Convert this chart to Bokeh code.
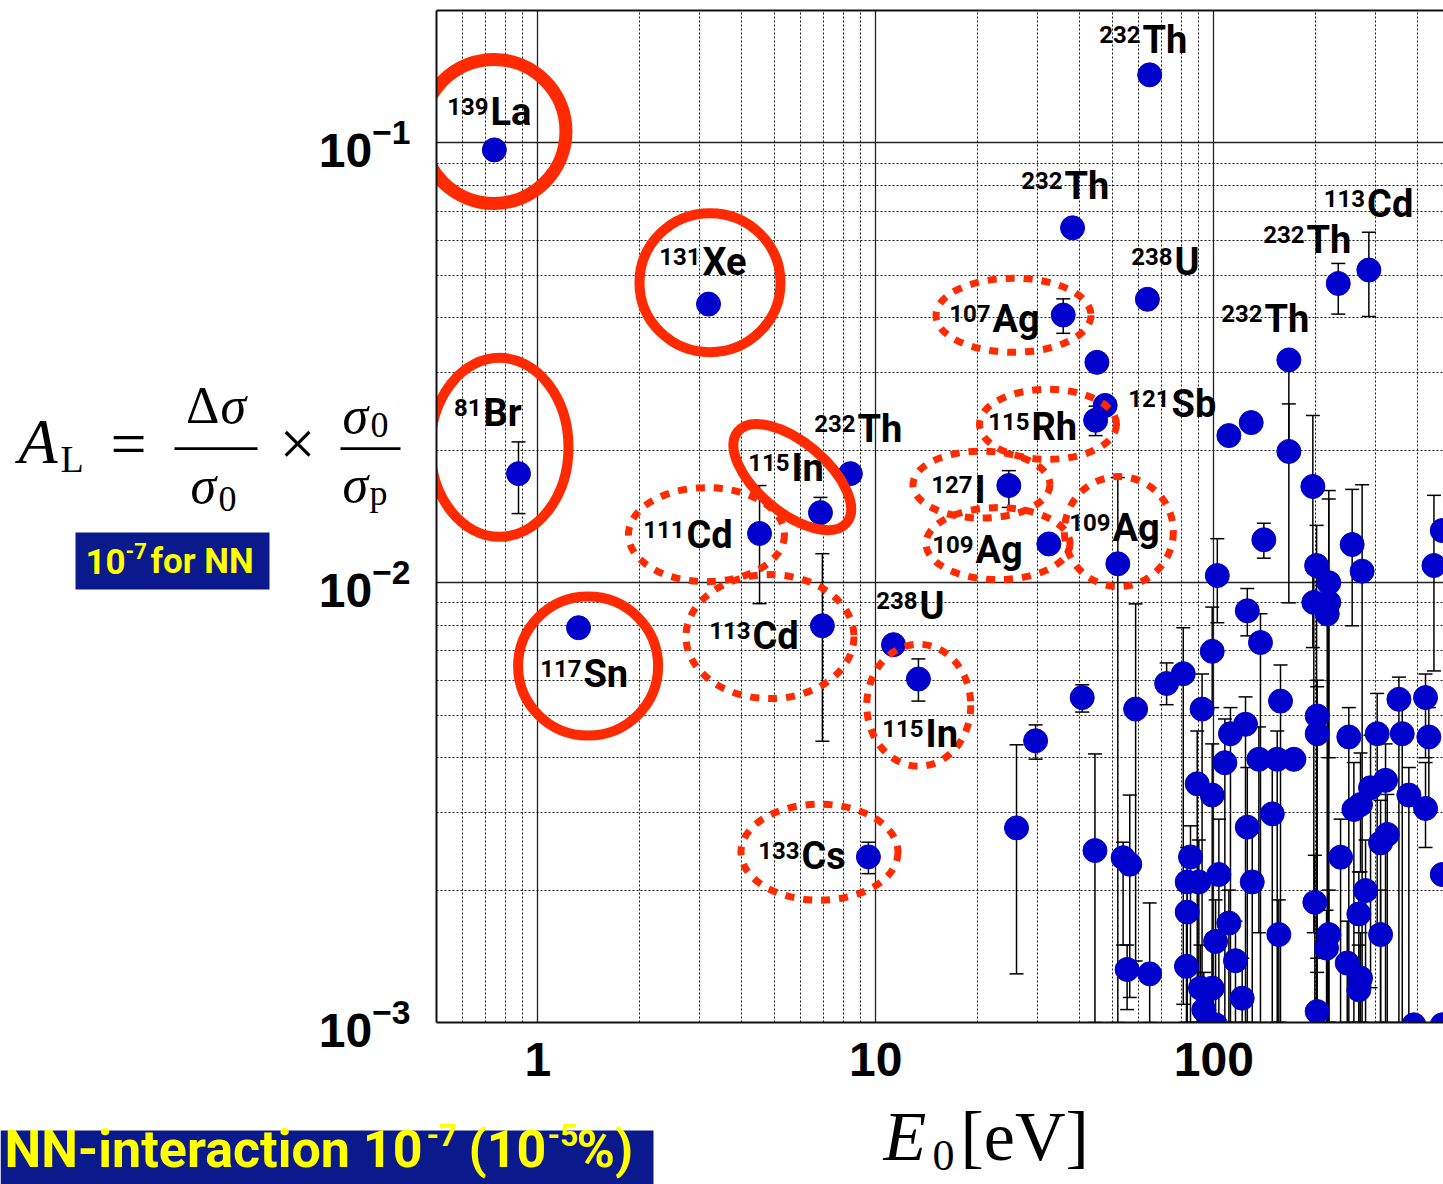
from bokeh.plotting import figure
from bokeh.layouts import column
from bokeh.models import (Label, LabelSet, Whisker, TeeHead, ColumnDataSource, LogAxis,
                          FixedTicker, LogTickFormatter, Range1d)
from bokeh.core.properties import value
from bokeh.embed import file_html
from bokeh.resources import INLINE

# ---------------- data ----------------
energy_eV = [0.744, 3.20, 0.877, 1.32, 4.53, 6.86, 6.95, 8.41, 9.51, 11.28,
             13.37, 24.75, 26.08, 29.7, 32.5, 35.85, 38.2, 40.8, 44.5, 44.7,
             45.1, 47.7, 52.0, 53.9, 56.4, 55.4, 58.7, 64.6, 63.6, 64.6,
             72.5, 81.2, 102.4, 125.6, 137.4, 140.6, 98.9, 110.8, 129.0, 166.7,
             166.7, 233.4, 287.5, 196.3, 201.4, 218.8, 197.6, 218.8, 216.5, 256.6,
             274.6, 447.9, 474.0, 92.3, 157.5, 352.8, 422.9,
             112.0, 124.1, 202.2, 202.2, 250.8, 304.3, 360.9, 432.6, 107.8, 135.9,
             154.0, 172.5, 89.3, 98.9, 148.9, 125.6, 271.6, 290.8, 322.1, 259.6,
             377.5, 422.9, 325.9, 311.4, 85.3, 83.4, 90.3, 103.5, 129.9, 237.1,
             281.1, 474.0, 83.4, 199.0, 268.5, 110.8, 101.2, 218.9, 215.5, 311.4,
             155.7, 83.0, 115.9, 248.1, 271.6, 268.5, 91.3, 98.9, 93.4, 101.2,
             121.3, 202.2, 390.6, 474.0]
asymmetry = [0.0964, 0.0430, 0.0177, 0.0079, 0.01294, 0.01443, 0.00798, 0.0177, 0.00238, 0.00723,
             0.00604, 0.01663, 0.00277, 0.00437, 0.01225, 0.0406, 0.0641, 0.00548, 0.00246, 0.0234,
             0.0317, 0.0253, 0.01104, 0.00237, 0.00229, 0.00132, 0.00516, 0.00129, 0.0441, 0.1428,
             0.0059, 0.00621, 0.01038, 0.00863, 0.00731, 0.01252, 0.00698, 0.0216, 0.02312, 0.0321,
             0.01988, 0.0479, 0.0514, 0.01655, 0.01094, 0.0100, 0.00902, 0.00902, 0.00849, 0.01221,
             0.01062, 0.01094, 0.01314, 0.00516, 0.00538, 0.00543, 0.00548,
             0.004536, 0.004766, 0.004977, 0.004536, 0.004459, 0.004536, 0.004536, 0.004459, 0.003897, 0.003967,
             0.003967, 0.003967, 0.00349, 0.00329, 0.002981, 0.002781, 0.003131, 0.003418, 0.003553, 0.003051,
             0.00329, 0.003067, 0.002677, 0.002561, 0.002379, 0.002087, 0.002087, 0.00217, 0.002087, 0.002376,
             0.001995, 0.00217, 0.001783, 0.001876, 0.001765, 0.001683, 0.001529, 0.001585, 0.001476, 0.001585,
             0.001585, 0.001342, 0.001382, 0.001365, 0.001262, 0.001187, 0.001197, 0.001197, 0.001069, 0.000988,
             0.001136, 0.001059, 0.000988, 0.000988]
err_low = [None, None, 0.01436, None, 0.00896, 0.01334, 0.00436, None, 0.00218, None,
           0.00538, 0.01483, 0.00129, 0.00397, None, 0.0369, None, 0.00508, 0.001, 0.0216,
           None, None, 0.001, 0.0015, 0.00114, 0.00107, 0.00138, 0.001, None, None,
           0.00528, 0.0011, 0.00811, 0.00757, 0.001, 0.01137, 0.0052, None, None, 0.0199,
           0.009, 0.0408, 0.0403, 0.00712, 0.001, 0.001, 0.0016, 0.004, 0.001, 0.00798,
           0.001, 0.0063, None, 0.001, 0.001, 0.001, 0.0040,
           0.001, 0.001, 0.001, 0.0014, 0.001, 0.0016, 0.001, 0.0031, 0.001, 0.0016,
           0.001, None, 0.001, 0.001, 0.001, 0.001, 0.0022, 0.0012, 0.001, 0.001,
           0.001, 0.0025, 0.001, 0.001, 0.001, 0.001, 0.001, 0.001, 0.001, 0.001,
           0.001, None, 0.001, 0.001, 0.001, 0.001, 0.001, 0.001, 0.001, 0.001,
           0.001, 0.001, 0.001, 0.001, 0.001, 0.001, 0.001, 0.001, 0.001, None,
           0.001, 0.001, None, None]
err_high = [None, None, 0.0209, None, 0.01663, 0.01563, 0.01164, None, 0.00257, None,
            0.00671, 0.01798, 0.00428, 0.00475, None, 0.0442, None, 0.00586, 0.00408, 0.0252,
            None, None, 0.01734, 0.00257, 0.00329, 0.0015, 0.00895, 0.00187, None, None,
            0.00657, 0.0079, 0.01259, 0.0097, 0.0085, 0.01365, 0.0088, None, None, 0.0321,
            0.0255, 0.0532, 0.0626, 0.024, 0.0135, 0.0162, 0.0105, 0.0155, 0.0100, 0.0163,
            0.0167, 0.0158, None, 0.0062, 0.0065, 0.0061, 0.0062,
            0.0052, 0.0055, 0.0060, 0.0058, 0.0052, 0.0056, 0.0055, 0.0052, 0.0049, 0.0047,
            0.0046, None, 0.0046, 0.0043, 0.0041, 0.0038, 0.0041, 0.0045, 0.0043, 0.0039,
            0.0038, 0.0039, 0.0033, 0.0032, 0.0028, 0.0025, 0.0026, 0.0029, 0.0027, 0.0029,
            0.0026, None, 0.0021, 0.0024, 0.0022, 0.0020, 0.0019, 0.0020, 0.0018, 0.0020,
            0.0019, 0.0017, 0.0017, 0.0017, 0.0016, 0.0015, 0.0015, 0.0015, 0.0013, None,
            0.0014, 0.0013, None, None]

# nuclide labels
mass_number = ["139", "131", "81", "117", "111", "115", "232", "113", "238", "115", "133",
               "107", "232", "232", "238", "113", "232", "232", "121", "115", "127", "109", "109"]
element = ["La", "Xe", "Br", "Sn", "Cd", "In", "Th", "Cd", "U", "In", "Cs",
           "Ag", "Th", "Th", "U", "Cd", "Th", "Th", "Sb", "Rh", "I", "Ag", "Ag"]
label_E = [0.7196, 3.05, 0.6862, 1.356, 2.735, 5.592, 8.767, 4.288, 13.38, 13.94, 5.986,
           21.99, 35.92, 61.11, 76.0, 282.0, 186.7, 140.3, 74.45, 28.69, 19.46, 19.59, 49.82]
label_A = [0.1099, 0.05006, 0.02266, 0.005795, 0.01202, 0.01707, 0.02084, 0.007073, 0.008279,
           0.00423, 0.002231, 0.0371, 0.07456, 0.1603, 0.05006, 0.0678, 0.05616, 0.0371,
           0.02376, 0.02106, 0.01521, 0.0111, 0.01246]

# highlight rings (solid) and dashed rings
ring_E = [0.742, 3.232, 0.7706, 1.409, 5.662]
ring_A = [0.1062, 0.04811, 0.02031, 0.006462, 0.01738]
dash_E = [25.55, 3.155, 4.864, 13.40, 6.814, 32.32, 20.54, 22.99, 52.36]
dash_A = [0.04056, 0.01286, 0.007541, 0.005265, 0.002439, 0.02291, 0.01671, 0.01227, 0.01307]

# ---------------- styles / geometry ----------------
RED = "#ff2a00"
BLUE = "#0000cc"
NAVY = "#0a1a8c"
YELLOW = "#ffff00"
SANS = "Roboto"
SERIF = "Liberation Serif"
ring_w = [144, 141, 138, 140, 142]
ring_h = [144, 139, 179, 139, 70]
ring_angle = [0, 0, 0, 0, -0.70]
ring_lw = [13, 10, 10, 10, 10]
dash_w = [155, 156, 168, 104, 157, 137, 137, 144, 109]
dash_h = [74, 94, 124, 122, 96, 70, 67, 72, 110]

W, H = 1443, 1184
p = figure(width=W, height=H, x_axis_type="log", y_axis_type="log",
           x_range=Range1d(0.5017, 478), y_range=Range1d(0.001, 0.2),
           output_backend="svg", toolbar_location=None,
           min_border_left=436, min_border_right=0, min_border_top=10, min_border_bottom=162)
p.outline_line_color = None
p.background_fill_color = "white"
p.border_fill_color = "white"

for ax in (p.xaxis[0], p.yaxis[0]):
    ax.major_tick_line_color = None
    ax.minor_tick_line_color = None
    ax.axis_line_width = 2
    ax.axis_line_color = "#111111"
    ax.major_label_text_font = "Liberation Sans"
    ax.major_label_text_font_style = "bold"
    ax.major_label_text_font_size = "48px"
    ax.major_label_text_color = "black"
    ax.ticker.num_minor_ticks = 10
p.xaxis[0].formatter = LogTickFormatter(min_exponent=3)
p.xaxis[0].major_label_standoff = 14
p.yaxis[0].major_label_standoff = 20

top = LogAxis(ticker=FixedTicker(ticks=[]), axis_line_width=2, axis_line_color="#111111",
              major_tick_line_color=None, minor_tick_line_color=None)
p.add_layout(top, "above")

for g in (p.xgrid[0], p.ygrid[0]):
    g.grid_line_color = "#222222"
    g.grid_line_width = 1.3
    g.minor_grid_line_color = "black"
    g.minor_grid_line_width = 1
    g.minor_grid_line_dash = "2 2"
    g.minor_grid_line_alpha = 0.9

# error bars
idx = [i for i in range(len(energy_eV)) if err_low[i] is not None]
wsrc = ColumnDataSource(dict(base=[energy_eV[i] for i in idx],
                             lower=[err_low[i] for i in idx],
                             upper=[err_high[i] for i in idx]))
p.add_layout(Whisker(base="base", lower="lower", upper="upper", source=wsrc, dimension="height",
                     line_color="black", line_width=1.5,
                     upper_head=TeeHead(size=14, line_color="black", line_width=1.5),
                     lower_head=TeeHead(size=14, line_color="black", line_width=1.5)))

# points
src = ColumnDataSource(dict(E=energy_eV, A=asymmetry))
p.scatter("E", "A", source=src, size=24, fill_color=BLUE, line_color=BLUE)

# highlight ellipses
p.ellipse(x=ring_E, y=ring_A, width=ring_w, height=ring_h, angle=ring_angle,
          width_units="screen", height_units="screen",
          fill_color=None, line_color=RED, line_width=ring_lw)
p.ellipse(x=dash_E, y=dash_A, width=dash_w, height=dash_h,
          width_units="screen", height_units="screen",
          fill_color=None, line_color=RED, line_width=7, line_dash="9 9")

# nuclide labels
lsrc = ColumnDataSource(dict(x=label_E, y=label_A, sup=mass_number, sym=element))
p.add_layout(LabelSet(x="x", y="y", text="sym", source=lsrc, x_offset=1,
                      text_font=value(SANS), text_font_style="bold", text_font_size="38px",
                      text_align="left", text_baseline="alphabetic", text_color="black"))
p.add_layout(LabelSet(x="x", y="y", text="sup", source=lsrc, x_offset=-1, y_offset=10,
                      text_font=value(SANS), text_font_style="bold", text_font_size="24px",
                      text_align="right", text_baseline="alphabetic", text_color="black"))

# ---------------- transparent overlay for the texts outside the plot frame ----------------
# overlay coordinates: x = pixels from the left, y = pixels from the bottom of the page
ov = figure(width=W, height=H, x_range=Range1d(0, W), y_range=Range1d(0, H),
            x_axis_location=None, y_axis_location=None, output_backend="svg",
            toolbar_location=None, min_border=0, margin=(-H, 0, 0, 0))
ov.grid.visible = False
ov.outline_line_color = None
ov.background_fill_color = None
ov.border_fill_color = None
for fig in (p, ov):
    if "frame_align" in fig.properties():
        fig.frame_align = False


def txt(x, y_top, s, size, font=SERIF, style="normal", align="left", color="black"):
    # y_top is the wanted baseline, measured from the top; the label anchor sits ~0.35 em higher
    ov.add_layout(Label(x=x, y=H - (y_top - 0.35 * size), text=s, text_font=font,
                        text_font_style=style, text_font_size=f"{size}px", text_align=align,
                        text_baseline="alphabetic", text_color=color))


def rect(l, r, t, b, color):
    ov.quad(left=[l], right=[r], top=[H - t], bottom=[H - b], fill_color=color, line_color=None)


# formula  A_L = Δσ/σ0 × σ0/σp
txt(18, 463, "A", 64, style="italic")
txt(60, 472, "L", 38)
txt(128, 465, "=", 64, align="center")
txt(219, 423, "Δ", 52, align="right")
txt(220, 423, "σ", 52, style="italic")
rect(174, 257, 446.8, 449.5, "black")
txt(190, 503, "σ", 52, style="italic")
txt(218, 511, "0", 36)
txt(297, 465, "×", 64, align="center")
rect(340, 400, 446.8, 449.5, "black")
txt(342, 433, "σ", 52, style="italic")
txt(370, 437, "0", 36)
txt(342, 502, "σ", 52, style="italic")
txt(369, 505, "p", 36)

# "10^-7 for NN" box
rect(75, 269, 532, 589, NAVY)
txt(85, 573, "10", 35, font=SANS, style="bold", color=YELLOW)
txt(125, 558, "-7", 22, font=SANS, style="bold", color=YELLOW)
txt(150, 573, "for NN", 35, font=SANS, style="bold", color=YELLOW)

# bottom banner
rect(0, 653, 1130, 1184, NAVY)
txt(422, 1167, "NN-interaction 10", 52, font=SANS, style="bold", align="right", color=YELLOW)
txt(426, 1146, "-7", 32, font=SANS, style="bold", color=YELLOW)
txt(468, 1167, "(10", 52, font=SANS, style="bold", color=YELLOW)
txt(547, 1146, "-5", 32, font=SANS, style="bold", color=YELLOW)
txt(576, 1167, "%)", 52, font=SANS, style="bold", color=YELLOW)

# x-axis title  E0 [eV]
txt(883, 1160, "E", 70, style="italic")
txt(932, 1170, "0", 44)
txt(960, 1160, "[eV]", 70)

open("out.html", "w").write(file_html(column(p, ov), INLINE))
